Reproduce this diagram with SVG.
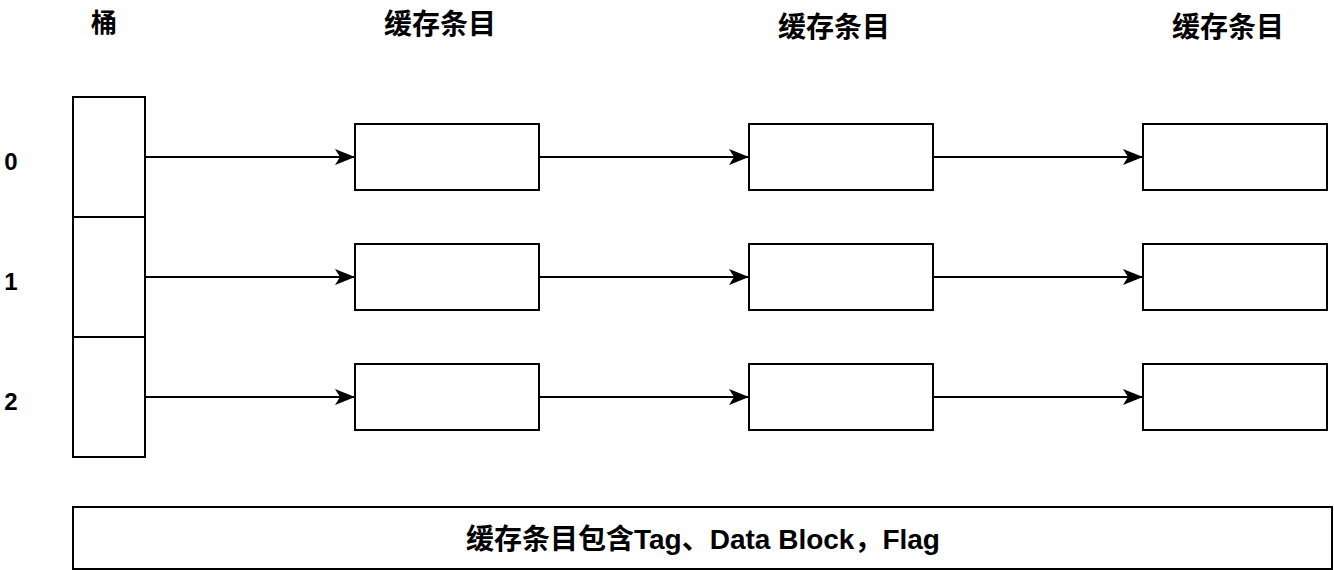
<svg xmlns="http://www.w3.org/2000/svg" width="1334" height="570" viewBox="0 0 1334 570">
<style>
.box{fill:#fff;stroke:#000;stroke-width:2}
.ln{stroke:#000;stroke-width:2;fill:none}
.t{font-family:"Liberation Sans","Noto Sans CJK SC",sans-serif;font-weight:bold;fill:#000}
</style>
<defs>
<marker id="ah" viewBox="0 0 20 16" refX="19" refY="8" markerWidth="20" markerHeight="16" markerUnits="userSpaceOnUse" orient="auto">
<path d="M0,0 L20,8 L0,16 L5,8 Z" fill="#000"/>
</marker>
</defs>
<rect width="1334" height="570" fill="#fff"/>
<g id="headers">
<text class="t" x="104" y="32" font-size="26" text-anchor="middle">桶</text>
<text class="t" x="440" y="34" font-size="28" text-anchor="middle">缓存条目</text>
<text class="t" x="834" y="37" font-size="28" text-anchor="middle">缓存条目</text>
<text class="t" x="1228" y="37" font-size="28" text-anchor="middle">缓存条目</text>
</g>
<g id="row-labels">
<text class="t" x="11" y="170" font-size="24" text-anchor="middle">0</text>
<text class="t" x="11" y="290" font-size="24" text-anchor="middle">1</text>
<text class="t" x="11" y="410" font-size="24" text-anchor="middle">2</text>
</g>
<g id="bucket0"><rect class="box" x="73" y="97" width="72" height="120"/></g>
<g id="bucket1"><rect class="box" x="73" y="217" width="72" height="120"/></g>
<g id="bucket2"><rect class="box" x="73" y="337" width="72" height="120"/></g>
<g id="e00"><rect class="box" x="355" y="124" width="184" height="66"/></g>
<g id="e01"><rect class="box" x="749" y="124" width="184" height="66"/></g>
<g id="e02"><rect class="box" x="1143" y="124" width="184" height="66"/></g>
<g id="e10"><rect class="box" x="355" y="244" width="184" height="66"/></g>
<g id="e11"><rect class="box" x="749" y="244" width="184" height="66"/></g>
<g id="e12"><rect class="box" x="1143" y="244" width="184" height="66"/></g>
<g id="e20"><rect class="box" x="355" y="364" width="184" height="66"/></g>
<g id="e21"><rect class="box" x="749" y="364" width="184" height="66"/></g>
<g id="e22"><rect class="box" x="1143" y="364" width="184" height="66"/></g>
<g id="connectors">
<path class="ln" d="M145,157 H354" marker-end="url(#ah)"/>
<path class="ln" d="M539,157 H748" marker-end="url(#ah)"/>
<path class="ln" d="M933,157 H1142" marker-end="url(#ah)"/>
<path class="ln" d="M145,277 H354" marker-end="url(#ah)"/>
<path class="ln" d="M539,277 H748" marker-end="url(#ah)"/>
<path class="ln" d="M933,277 H1142" marker-end="url(#ah)"/>
<path class="ln" d="M145,397 H354" marker-end="url(#ah)"/>
<path class="ln" d="M539,397 H748" marker-end="url(#ah)"/>
<path class="ln" d="M933,397 H1142" marker-end="url(#ah)"/>
</g>
<g id="note">
<rect class="box" x="73" y="507" width="1259" height="62"/>
<text class="t" x="703" y="549" font-size="28" text-anchor="middle">缓存条目包含Tag、Data Block，Flag</text>
</g>
</svg>
